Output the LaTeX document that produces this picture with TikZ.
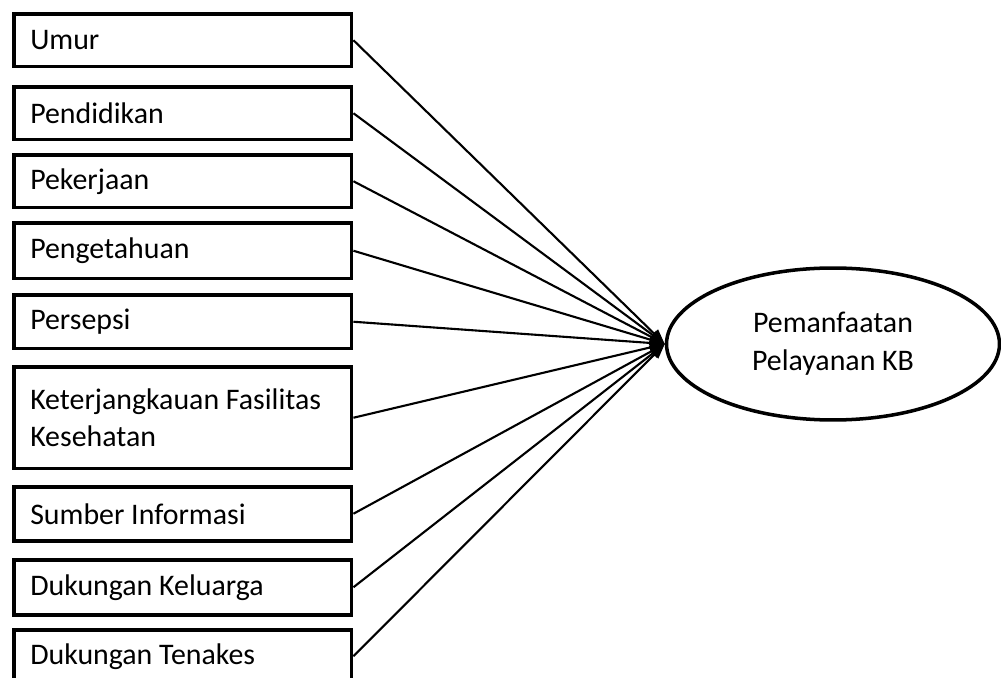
\documentclass[tikz,border=0pt]{standalone}
\usepackage{fontspec}
\setmainfont{Carlito}
\usepackage{tikz}
\usetikzlibrary{shapes.geometric,arrows.meta}
\tikzset{var/.style={
    draw,
    line width=2pt,
    rectangle,
    anchor=north west,
    minimum width=6.76cm,
    text width=6.1cm,
    inner xsep=0.33cm,
    inner ysep=0,
    align=flush left,
    font=\fontsize{17}{21.6}\selectfont}}
\tikzset{hasil/.style={
    draw,
    line width=2pt,
    ellipse,
    minimum width=6.66cm,
    minimum height=3.04cm,
    inner sep=0,
    align=center,
    font=\fontsize{17}{21.6}\selectfont}}
\tikzset{panah/.style={
    line width=1.2pt,
    -{Triangle[length=0.3cm,width=0.22cm]}}}

\begin{document}
\begin{tikzpicture}[x=0.02cm, y=-0.02cm]
  \useasboundingbox (0,0) rectangle (1001,678);
  \clip (0,0) rectangle (1001,678);

\node[var, minimum height=1.06cm] (umur) at (12,12) {Umur};
\node[var, minimum height=1.06cm] (didik) at (12,85) {Pendidikan};
\node[var, minimum height=1.06cm] (kerja) at (12,153) {Pekerjaan};
\node[var, minimum height=1.12cm] (tahu) at (12,221) {Pengetahuan};
\node[var, minimum height=1.08cm] (sepsi) at (12,293) {Persepsi};
\node[var, minimum height=2.04cm] (jangkau) at (12,365) {Keterjangkauan Fasilitas\\Kesehatan};
\node[var, minimum height=1.08cm] (info) at (12,485) {Sumber Informasi};
\node[var, minimum height=1.1cm] (klg) at (12,558) {Dukungan Keluarga};
\node[var, minimum height=1.06cm] (nakes) at (12,628) {Dukungan Tenakes};

\node[hasil] (kb) at (833,344) {Pemanfaatan\\Pelayanan KB};

  \foreach \v in {umur,didik,kerja,tahu,sepsi,jangkau,info,klg,nakes}
    \draw[panah] (\v.east) -- (kb.west);
\end{tikzpicture}
\end{document}
